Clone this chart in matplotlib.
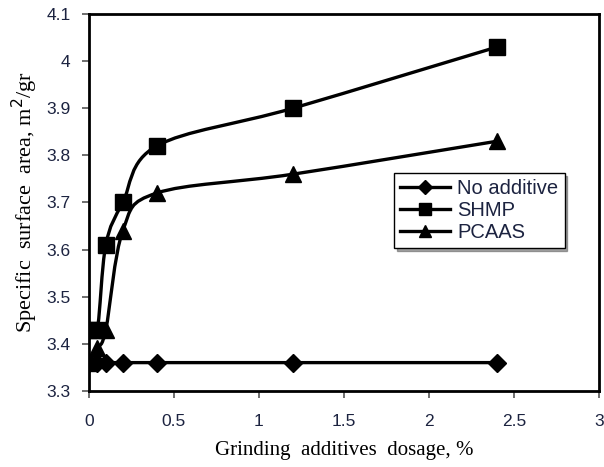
import numpy as np
import matplotlib
matplotlib.use('Agg')
import matplotlib.pyplot as plt
from matplotlib.path import Path
from matplotlib.patches import PathPatch
from matplotlib.lines import Line2D

# data
dosage = [0, 0.05, 0.1, 0.2, 0.4, 1.2, 2.4]
no_additive = [3.36, 3.36, 3.36, 3.36, 3.36, 3.36, 3.36]
shmp = [3.43, 3.43, 3.61, 3.70, 3.82, 3.90, 4.03]
pcaas = [3.36, 3.39, 3.43, 3.64, 3.72, 3.76, 3.83]

series_names = ['No additive', 'SHMP', 'PCAAS']
series_markers = ['D', 's', '^']
marker_sizes = [9.5, 11.5, 11.5]

xticks = [0, 0.5, 1, 1.5, 2, 2.5, 3]
xtick_labels = ['0', '0.5', '1', '1.5', '2', '2.5', '3']
yticks = [3.3, 3.4, 3.5, 3.6, 3.7, 3.8, 3.9, 4.0, 4.1]
ytick_labels = ['3.3', '3.4', '3.5', '3.6', '3.7', '3.8', '3.9', '4', '4.1']


def smooth_path(x, y):
    # excel style smoothed line: catmull-rom segments as cubic beziers
    pts = np.column_stack([x, y]).astype(float)
    n = len(pts)
    verts = [pts[0]]
    codes = [Path.MOVETO]
    for i in range(n - 1):
        p0 = pts[max(i - 1, 0)]
        p1 = pts[i]
        p2 = pts[i + 1]
        p3 = pts[min(i + 2, n - 1)]
        c1 = p1 + (p2 - p0) / 6.0
        c2 = p2 - (p3 - p1) / 6.0
        verts += [c1, c2, p2]
        codes += [Path.CURVE4] * 3
    return Path(verts, codes)


fig = plt.figure(figsize=(6.04, 4.67), dpi=100)
ax = fig.add_axes([0.147, 0.163, 0.845, 0.807])

tick_color = '#1c2340'
lw = 2.4
for vals, name, mk, ms in zip([no_additive, shmp, pcaas], series_names,
                              series_markers, marker_sizes):
    ax.add_patch(PathPatch(smooth_path(dosage, vals), facecolor='none',
                           edgecolor='black', lw=lw, zorder=2))
    ax.plot(dosage, vals, linestyle='none', marker=mk, markersize=ms,
            color='black', zorder=3)

ax.set_xlim(0, 3)
ax.set_ylim(3.3, 4.1)
ax.set_xticks(xticks)
ax.set_xticklabels(xtick_labels)
ax.set_yticks(yticks)
ax.set_yticklabels(ytick_labels)
ax.tick_params(direction='out', length=5, width=1.2, colors='#555555',
               labelcolor=tick_color, labelsize=12.5, pad=8)
for lab in ax.get_xticklabels() + ax.get_yticklabels():
    lab.set_family('Liberation Sans')
ax.tick_params(axis='x', pad=12)
for sp in ax.spines.values():
    sp.set_linewidth(2.0)
    sp.set_color('black')

ax.set_xlabel('Grinding  additives  dosage, %', family='Liberation Serif',
              fontsize=15, labelpad=8)
ax.set_ylabel('Specific  surface  area, m$^2$/gr', family='Liberation Serif',
              fontsize=16, labelpad=5)

handles = [Line2D([], [], color='black', lw=lw, marker=m, markersize=s * 0.8)
           for m, s in zip(series_markers, marker_sizes)]
leg = ax.legend(handles, series_names, loc='upper left',
                bbox_to_anchor=(0.598, 0.578), borderaxespad=0,
                frameon=True, fancybox=False,
                shadow=True, handlelength=2.5, handletextpad=0.35,
                labelspacing=0.15, borderpad=0.3,
                prop={'family': 'Liberation Sans', 'size': 14.5})
leg.get_frame().set_edgecolor('black')
leg.get_frame().set_linewidth(1.0)
for t in leg.get_texts():
    t.set_color(tick_color)

fig.savefig('out.png', dpi=100)
